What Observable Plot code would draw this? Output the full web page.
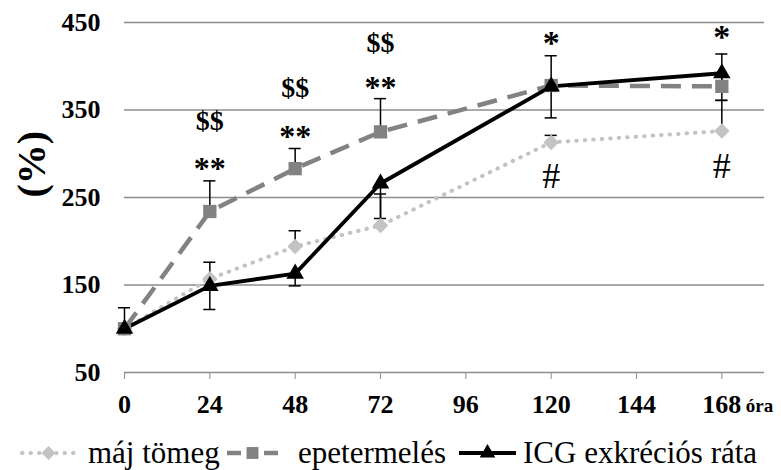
<!DOCTYPE html>
<html>
<head>
<meta charset="utf-8">
<script src="https://cdn.jsdelivr.net/npm/d3@7"></script>
<script src="https://cdn.jsdelivr.net/npm/@observablehq/plot@0.6"></script>
<style>
  html, body { margin: 0; padding: 0; background: #fff; }
  #wrap { position: relative; width: 781px; height: 470px; overflow: hidden; }
  #legend { position: absolute; left: 0; top: 433px; width: 781px; height: 40px;
            font-family: "Liberation Serif", serif; font-size: 31px; color: #000; white-space: nowrap; }
  #legend svg, #legend span { position: absolute; top: 0; display: block; }
  #legend span { line-height: 40px; }
</style>
</head>
<body>
<div id="wrap"><div id="chart"></div><div id="legend"></div></div>
<script>
// ---- data ----
const hours = [0, 24, 48, 72, 120, 168];
const xTicks = [0, 24, 48, 72, 96, 120, 144, 168];
const yTicks = [50, 150, 250, 350, 450];
const seriesNames = ["máj tömeg", "epetermelés", "ICG exkréciós ráta"];

const majTomeg      = [100, 157, 194, 218, 313, 326];
const majTomegErrUp = [0, 19, 18, 36, 8, 35];
const epetermeles      = [100, 234, 283, 325, 378, 377];
const epetermelesErrUp = [24, 35, 23, 38, 34, 37];
const icg        = [100, 149, 163, 266, 377, 392];
const icgErrDown = [0, 27, 14, 40, 36, 31];

// significance annotations
const dollarX = [24, 48, 72];  const dollarY = [337, 375, 427];
const star2X  = [24, 48, 72];  const star2Y  = [291, 327, 384];
const starX   = [120, 168];    const starY   = [435, 441];
const hashX   = [120, 168];    const hashY   = [274, 286];

// ---- styles ----
const FONT = '"Liberation Serif", serif';
const colors = ["#c3c3c3", "#828282", "#000000"];
const dashes = ["0.5 8", "20 11", null];
const widths = [4, 4.5, 3.8];
const diamondSym = { draw(ctx, size) { const r = Math.sqrt(size / Math.PI) * 1.2;
  ctx.moveTo(0, -r); ctx.lineTo(r, 0); ctx.lineTo(0, r); ctx.lineTo(-r, 0); ctx.closePath(); } };
const symbols = [diamondSym, "square", "triangle"];
const symR = [6.5, 7.5, 6.5];

const values = [majTomeg, epetermeles, icg];
const rows = [];
values.forEach((arr, s) => hours.forEach((h, i) => rows.push({h, v: arr[i], s})));

const errRows = [];
hours.forEach((h, i) => {
  if (majTomegErrUp[i] > 0) errRows.push({h, y1: majTomeg[i], y2: majTomeg[i] + majTomegErrUp[i]});
  if (epetermelesErrUp[i] > 0) errRows.push({h, y1: epetermeles[i], y2: epetermeles[i] + epetermelesErrUp[i]});
  if (icgErrDown[i] > 0) errRows.push({h, y1: icg[i], y2: icg[i] - icgErrDown[i]});
});

const lineMarks = [0, 1, 2].map(s => Plot.line(rows.filter(r => r.s === s), {
  x: "h", y: "v", stroke: colors[s], strokeWidth: widths[s],
  strokeDasharray: dashes[s], strokeLinecap: s === 0 ? "round" : "butt", strokeLinejoin: "round"
}));
const dotMarks = [0, 1, 2].map(s => Plot.dot(rows.filter(r => r.s === s), {
  x: "h", y: "v", symbol: symbols[s], r: symR[s], fill: colors[s], stroke: "none"
}));

const txt = (xs, ys, label, o) => Plot.text(xs.map((x, i) => ({x, y: ys[i]})),
  {x: "x", y: "y", text: () => label, fill: "black", fontFamily: FONT, ...o});

const chart = Plot.plot({
  width: 781, height: 425,
  marginTop: 22, marginBottom: 53, marginLeft: 124, marginRight: 17,
  style: {fontFamily: FONT, background: "white", color: "black"},
  x: {domain: [0, 180]},
  y: {domain: [50, 450]},
  marks: [
    Plot.gridY(yTicks.slice(1), {stroke: "#8c8c8c", strokeOpacity: 1, strokeWidth: 1.3}),
    Plot.ruleY([yTicks[0]], {stroke: "#8c8c8c", strokeWidth: 1.3}),
    Plot.axisY({ticks: yTicks, tickSize: 0, tickPadding: 24, fontSize: 26, fontWeight: "bold", fontFamily: FONT, label: null}),
    Plot.axisX({ticks: xTicks, tickSize: 7, tickPadding: 15, stroke: "#8c8c8c", fill: "black",
                fontSize: 26, fontWeight: "bold", fontFamily: FONT, label: null}),
    Plot.text(["óra"], {x: 168, y: 50, dx: 24, dy: 33, textAnchor: "start", fontSize: 19, fontWeight: "bold", fill: "black", fontFamily: FONT}),
    Plot.text(["(%)"], {frameAnchor: "left", dx: -92, rotate: -90, fontSize: 40, fontWeight: "bold", fill: "black", fontFamily: FONT}),
    // error bars
    Plot.ruleX(errRows, {x: "h", y1: "y1", y2: "y2", stroke: "black", strokeWidth: 1.5}),
    Plot.ruleY(errRows, {y: "y2", x1: d => d.h - 1.7, x2: d => d.h + 1.7, stroke: "black", strokeWidth: 1.5}),
    ...lineMarks,
    ...dotMarks,
    txt(dollarX, dollarY, "$$", {fontSize: 28, fontWeight: "bold"}),
    txt(star2X, star2Y, "**", {fontSize: 32, fontWeight: "bold", dy: 7}),
    txt(starX, starY, "*", {fontSize: 34, fontWeight: "bold", dy: 7}),
    txt(hashX, hashY, "#", {fontSize: 36})
  ]
});
document.getElementById("chart").appendChild(chart);

// ---- legend ----
const legend = d3.select("#legend");
const markerLeft = [20, 225, 457], markerW = [57, 55, 61];
const textLeft = [88, 298, 523];
seriesNames.forEach((name, s) => {
  const w = markerW[s];
  const svg = legend.append("svg").attr("width", w).attr("height", 40)
    .style("left", markerLeft[s] + "px");
  if (s === 1) {
    svg.append("line").attr("x1", 2).attr("x2", 16).attr("y1", 20).attr("y2", 20)
      .attr("stroke", colors[s]).attr("stroke-width", widths[s]);
    svg.append("line").attr("x1", w - 16).attr("x2", w - 2).attr("y1", 20).attr("y2", 20)
      .attr("stroke", colors[s]).attr("stroke-width", widths[s]);
  } else {
    svg.append("line").attr("x1", 2).attr("x2", w - 2).attr("y1", 20).attr("y2", 20)
      .attr("stroke", colors[s]).attr("stroke-width", widths[s])
      .attr("stroke-dasharray", dashes[s]).attr("stroke-linecap", s === 0 ? "round" : "butt");
  }
  const sym = s === 0 ? diamondSym : s === 1 ? d3.symbolSquare : d3.symbolTriangle;
  svg.append("path").attr("transform", `translate(${w / 2},20)`)
    .attr("d", d3.symbol(sym, Math.PI * symR[s] * symR[s] * 0.8)())
    .attr("fill", colors[s]);
  legend.append("span").style("left", textLeft[s] + "px").text(name);
});
</script>
</body>
</html>
